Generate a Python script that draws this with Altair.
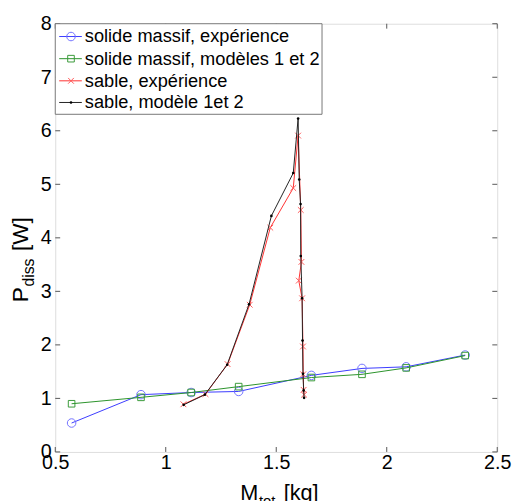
import altair as alt
import pandas as pd

# ---- data ----
solide_x = [0.574, 0.888, 1.115, 1.33, 1.659, 1.888, 2.088, 2.355]
solide_exp_y = [0.54, 1.07, 1.11, 1.13, 1.43, 1.56, 1.59, 1.81]
solide_mod_y = [0.90, 1.02, 1.11, 1.22, 1.39, 1.45, 1.57, 1.80]

sable_exp_x = [1.08, 1.18, 1.28, 1.38, 1.473, 1.577, 1.599, 1.611, 1.614, 1.602, 1.617, 1.621, 1.622, 1.624, 1.626]
sable_exp_y = [0.89, 1.08, 1.64, 2.75, 4.19, 4.93, 5.91, 4.52, 3.55, 3.20, 2.87, 1.97, 1.45, 1.16, 1.07]

sable_mod_x = [1.081, 1.177, 1.278, 1.377, 1.478, 1.577, 1.599, 1.604, 1.61, 1.611, 1.617, 1.619, 1.621, 1.624, 1.626]
sable_mod_y = [0.88, 1.07, 1.63, 2.76, 4.41, 5.21, 6.23, 5.09, 4.63, 3.66, 2.87, 2.08, 1.46, 1.15, 1.01]

series_names = [
    "solide massif, expérience",
    "solide massif, modèles 1 et 2",
    "sable, expérience",
    "sable, modèle 1et 2",
]
series_colors = ["#3a3aff", "#2a922a", "#ff3030", "#222222"]
marker_colors = ["#7373ff", "#3a9a3a", "#ff5a5a", "#000000"]
x_ticks = [0.5, 1, 1.5, 2, 2.5]
y_ticks = [0, 1, 2, 3, 4, 5, 6, 7, 8]

W, H = 449, 435
FONT = "Liberation Sans"
XSC = alt.Scale(domain=[0.5, 2.5], nice=False, zero=False)
YSC = alt.Scale(domain=[0, 8], nice=False, zero=False)

X_SHAPE = "M-1,-1L1,1M1,-1L-1,1"


def frame(xs, ys, name):
    return pd.DataFrame({"x": xs, "y": ys, "i": list(range(len(xs))), "s": name})


dfs = [
    frame(solide_x, solide_exp_y, series_names[0]),
    frame(solide_x, solide_mod_y, series_names[1]),
    frame(sable_exp_x, sable_exp_y, series_names[2]),
    frame(sable_mod_x, sable_mod_y, series_names[3]),
]

shapes = ["circle", "square", X_SHAPE, "circle"]
sizes = [75, 45, 34, 7]
filled = [False, False, False, True]

xenc = alt.X("x:Q", scale=XSC,
             axis=alt.Axis(values=x_ticks, title=None, grid=False, domain=False, ticks=False,
                           labelFont=FONT, labelFontSize=20, labelColor="#000",
                           labelPadding=1, labelFlush=False, labelOverlap=False, labelBound=False,
                           format="~g"))
yenc = alt.Y("y:Q", scale=YSC,
             axis=alt.Axis(values=y_ticks, title=None, grid=False, domain=False, ticks=False,
                           labelFont=FONT, labelFontSize=20, labelColor="#000",
                           labelPadding=4, labelFlush=False, labelOverlap=False, labelBound=False,
                           format="~g"))

layers = []
for k, df in enumerate(dfs):
    base = alt.Chart(df)
    layers.append(base.mark_line(color=series_colors[k], strokeWidth=1).encode(
        x=xenc, y=yenc, order="i:Q"))
    layers.append(base.mark_point(shape=shapes[k], size=sizes[k], filled=filled[k],
                                  color=marker_colors[k], strokeWidth=1, opacity=1).encode(
        x=xenc, y=yenc))

# inward ticks
tx = pd.DataFrame({"x": x_ticks})
ty = pd.DataFrame({"y": y_ticks})
tick_col = "#555555"
layers.append(alt.Chart(tx).mark_rule(color=tick_col, strokeWidth=1).encode(
    x=alt.X("x:Q", scale=XSC), y=alt.value(H), y2=alt.value(H - 5)))
layers.append(alt.Chart(tx).mark_rule(color=tick_col, strokeWidth=1).encode(
    x=alt.X("x:Q", scale=XSC), y=alt.value(0), y2=alt.value(5)))
layers.append(alt.Chart(ty).mark_rule(color=tick_col, strokeWidth=1).encode(
    y=alt.Y("y:Q", scale=YSC), x=alt.value(0), x2=alt.value(5)))
layers.append(alt.Chart(ty).mark_rule(color=tick_col, strokeWidth=1).encode(
    y=alt.Y("y:Q", scale=YSC), x=alt.value(W), x2=alt.value(W - 5)))

# legend box
leg_w, leg_h = 271, 92
row_y = [13, 35.5, 58, 80]
leg = pd.DataFrame({"name": series_names, "ry": row_y, "k": list(range(4))})
layers.append(alt.Chart(pd.DataFrame({"a": [0]})).mark_rect(
    fill="white", stroke="#777777", strokeWidth=1).encode(
    x=alt.value(0), x2=alt.value(leg_w), y=alt.value(0), y2=alt.value(leg_h)))
for k in range(4):
    one = leg[leg.k == k]
    layers.append(alt.Chart(one).mark_rule(color=series_colors[k], strokeWidth=1).encode(
        x=alt.value(4), x2=alt.value(27), y=alt.Y("ry:Q", scale=None)))
    layers.append(alt.Chart(one).mark_point(shape=shapes[k], size=sizes[k], filled=filled[k],
                                            color=marker_colors[k], strokeWidth=1, opacity=1).encode(
        x=alt.value(16), y=alt.Y("ry:Q", scale=None)))
layers.append(alt.Chart(leg).mark_text(align="left", baseline="middle", font=FONT,
                                       fontSize=18.5, color="#000").encode(
    x=alt.value(30), y=alt.Y("ry:Q", scale=None), text="name:N"))

# axis titles (with subscripts)
lab = pd.DataFrame({"a": [0]})
def txt(t, x, y, size, angle=0):
    kw = dict(align="left", baseline="alphabetic", font=FONT, fontSize=size, color="#000", text=t)
    if angle:
        kw["angle"] = angle
    return alt.Chart(lab).mark_text(**kw).encode(x=alt.value(x), y=alt.value(y))

layers.append(txt("M", 188, 484, 22))
layers.append(txt("tot", 207, 490, 15))
layers.append(txt("[kg]", 232, 484, 22))
layers.append(txt("P", -28, 283, 23, 270))
layers.append(txt("diss", -22, 267, 16, 270))
layers.append(txt("[W]", -28, 231, 23, 270))

chart = alt.layer(*layers).properties(
    width=W, height=H,
    autosize="none",
    padding={"left": 48, "top": 12, "right": 15, "bottom": 54},
).configure_view(stroke="#444444", strokeWidth=1).configure(background="white")

chart.save("out.html", embed_options={"renderer": "svg", "actions": False})
